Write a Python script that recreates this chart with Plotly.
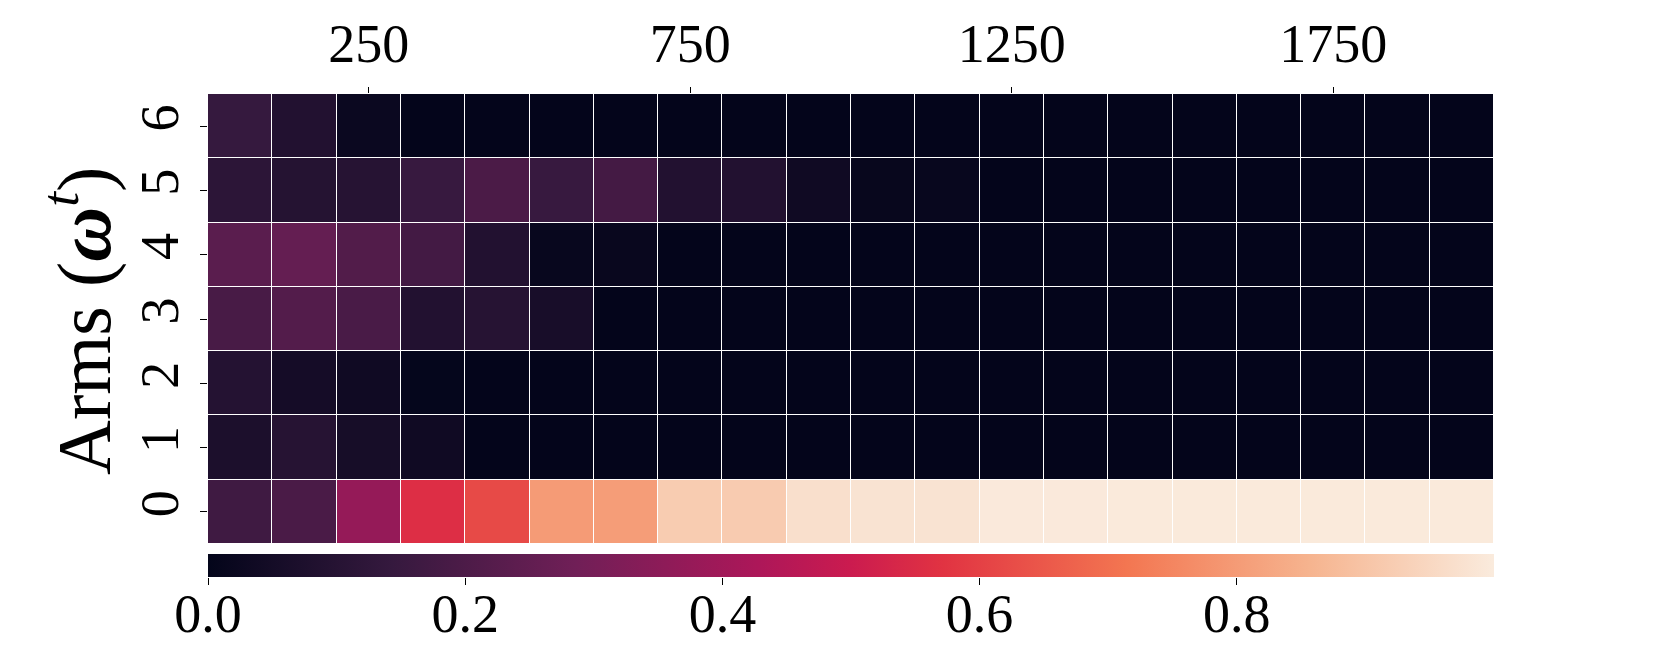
import plotly.graph_objects as go

# Column centres (steps) and arm indices
steps = [50, 150, 250, 350, 450, 550, 650, 750, 850, 950,
         1050, 1150, 1250, 1350, 1450, 1550, 1650, 1750, 1850, 1950]
arms = [0, 1, 2, 3, 4, 5, 6]
x_tick_vals = [250, 750, 1250, 1750]
x_tick_text = ["250", "750", "1250", "1750"]
cbar_tick_vals = [0.0, 0.2, 0.4, 0.6, 0.8]
cbar_tick_text = ["0.0", "0.2", "0.4", "0.6", "0.8"]

arm0 = [0.167, 0.194, 0.373, 0.557, 0.62, 0.80, 0.805, 0.92, 0.918, 0.969,
        0.98, 0.98, 0.996, 0.996, 0.997, 0.997, 0.997, 0.997, 0.997, 0.997]
arm1 = [0.071, 0.10, 0.057, 0.037, 0.002, 0.002, 0.002, 0.002, 0.002, 0.002,
        0.002, 0.002, 0.002, 0.002, 0.002, 0.002, 0.002, 0.002, 0.002, 0.002]
arm2 = [0.094, 0.05, 0.037, 0.006, 0.002, 0.002, 0.002, 0.002, 0.002, 0.002,
        0.002, 0.002, 0.002, 0.002, 0.002, 0.002, 0.002, 0.002, 0.002, 0.002]
arm3 = [0.19, 0.216, 0.192, 0.088, 0.10, 0.06, 0.003, 0.002, 0.002, 0.002,
        0.002, 0.002, 0.002, 0.002, 0.002, 0.002, 0.002, 0.002, 0.002, 0.002]
arm4 = [0.233, 0.257, 0.213, 0.177, 0.089, 0.015, 0.017, 0.002, 0.002, 0.002,
        0.002, 0.002, 0.002, 0.002, 0.002, 0.002, 0.002, 0.002, 0.002, 0.002]
arm5 = [0.117, 0.097, 0.10, 0.147, 0.197, 0.147, 0.178, 0.088, 0.088, 0.037,
        0.013, 0.015, 0.002, 0.002, 0.002, 0.002, 0.002, 0.002, 0.002, 0.002]
arm6 = [0.143, 0.088, 0.023, 0.002, 0.002, 0.002, 0.002, 0.002, 0.002, 0.002,
        0.002, 0.002, 0.002, 0.002, 0.002, 0.002, 0.002, 0.002, 0.002, 0.002]

z = [arm0, arm1, arm2, arm3, arm4, arm5, arm6]

# seaborn "rocket" colormap approximation
rocket = [
    [0.0, "#03051a"],
    [1 / 7, "#35193e"],
    [2 / 7, "#701f57"],
    [3 / 7, "#ad1759"],
    [0.5, "#cb1b4f"],
    [4 / 7, "#e13342"],
    [5 / 7, "#f37651"],
    [6 / 7, "#f6b48f"],
    [1.0, "#faebdd"],
]
Z_MIN, Z_MAX = 0.0, 1.0

FONT = "Liberation Serif"
TICK_FONT = dict(family=FONT, size=54, color="black")
HEAT_DOMAIN = [33 / 483, 1.0]

fig = go.Figure()
fig.add_trace(
    go.Heatmap(
        z=z, x=steps, y=arms,
        colorscale=rocket, zmin=Z_MIN, zmax=Z_MAX,
        xgap=1, ygap=1,
        colorbar=dict(
            orientation="h",
            thickness=23, thicknessmode="pixels",
            len=1.0, lenmode="fraction",
            x=0.5, xanchor="center",
            y=0.0, yanchor="bottom", yref="paper",
            xpad=0, ypad=0,
            outlinewidth=0,
            ticks="", showticklabels=False,
        ),
    )
)
# Axis carrying the colour-bar scale (same range as the colour scale)
fig.add_trace(
    go.Scatter(
        x=cbar_tick_vals, y=[None] * len(cbar_tick_vals),
        xaxis="x2", yaxis="y", mode="markers",
        showlegend=False, hoverinfo="skip",
    )
)

fig.update_layout(
    width=1661, height=664,
    margin=dict(l=200, r=175, t=86, b=95, autoexpand=False),
    paper_bgcolor="white", plot_bgcolor="white",
    font=dict(family=FONT, color="black"),
    showlegend=False,
    xaxis=dict(
        side="top", range=[0, 2000], automargin=False,
        tickmode="array", tickvals=x_tick_vals, ticktext=x_tick_text,
        ticks="outside", ticklen=6, tickwidth=1, tickcolor="black",
        tickfont=TICK_FONT, ticklabelstandoff=3,
        showgrid=False, zeroline=False, showline=False,
    ),
    xaxis2=dict(
        anchor="free", position=0.0, side="bottom", overlaying="x",
        range=[Z_MIN, Z_MAX], automargin=False,
        tickmode="array", tickvals=cbar_tick_vals, ticktext=cbar_tick_text,
        ticks="outside", ticklen=7, tickwidth=1, tickcolor="black",
        tickfont=TICK_FONT, ticklabelstandoff=-18,
        showgrid=False, zeroline=False, showline=False,
    ),
    yaxis=dict(
        domain=HEAT_DOMAIN,
        range=[-0.5, 6.5], automargin=False,
        tickmode="array", tickvals=arms, ticktext=[str(a) for a in arms],
        tickangle=-90,
        ticks="outside", ticklen=7, tickwidth=1, tickcolor="black",
        tickfont=TICK_FONT,
        showgrid=False, zeroline=False, showline=False,
    ),
    annotations=[
        dict(
            text="Arms (<b><i>ω</i></b><sup><i>t</i></sup>)",
            xref="paper", yref="paper", x=0,
            y=(HEAT_DOMAIN[0] + HEAT_DOMAIN[1]) / 2,
            xanchor="center", yanchor="middle",
            xshift=-129, yshift=-2, textangle=-90, showarrow=False,
            font=dict(family=FONT, size=76, color="black"),
        )
    ],
)

fig.write_html("out.html")
